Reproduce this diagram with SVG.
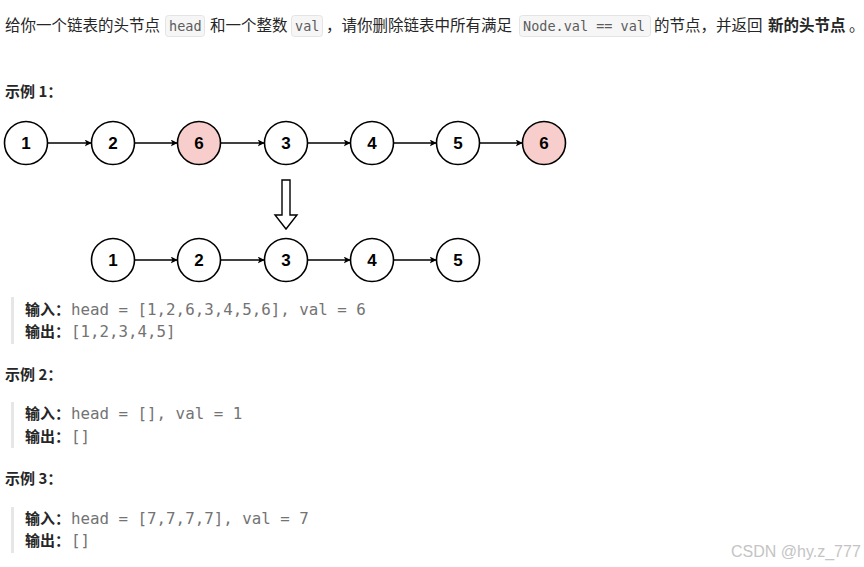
<svg xmlns="http://www.w3.org/2000/svg" width="864" height="567" viewBox="0 0 864 567">
<defs>
<style>
.t{font-family:"Noto Sans CJK SC","Noto Sans",sans-serif;font-size:15.5px;fill:#262626}
.b{font-weight:bold}
.code{font-family:"DejaVu Sans Mono","Liberation Mono",monospace;font-size:13.5px;fill:#5c5c5c}
.cb{fill:#f6f6f6;stroke:#e4e4e4;stroke-width:1}
.mono{font-family:"DejaVu Sans Mono","Liberation Mono",monospace;font-size:15.8px;fill:#737373}
.lbl{font-family:"Noto Sans CJK SC",sans-serif;font-size:15px;font-weight:bold;fill:#262626}
.node circle{fill:#fff;stroke:#000;stroke-width:1.6}
.node.hl circle{fill:#f8cecc}
.node text{font-family:"Liberation Sans",Arial,sans-serif;font-size:17px;font-weight:bold;fill:#000;text-anchor:middle}
.edge{stroke:#000;stroke-width:1.4;fill:none;marker-end:url(#ah)}
.bar{fill:#e6e6e6}
</style>
<marker id="ah" viewBox="0 0 10 10" refX="9" refY="5" markerWidth="7" markerHeight="7" markerUnits="userSpaceOnUse" orient="auto">
<path d="M0,0 L10,5 L0,10 L2.5,5 Z" fill="#000"/>
</marker>
</defs>
<rect width="864" height="567" fill="#fff"/>

<g id="intro">
<text class="t" x="5" y="31">给你一个链表的头节点</text>
<rect class="cb" x="165.5" y="15.5" width="39" height="21" rx="3"/>
<text class="code" x="169" y="31">head</text>
<text class="t" x="210" y="31">和一个整数</text>
<rect class="cb" x="291.5" y="15.5" width="31" height="21" rx="3"/>
<text class="code" x="295" y="31">val</text>
<text class="t" x="326" y="31">，请你删除链表中所有满足</text>
<rect class="cb" x="519.5" y="15.5" width="131" height="21" rx="3"/>
<text class="code" x="523" y="31">Node.val == val</text>
<text class="t" x="654" y="31">的节点，并返回</text>
<text class="t b" x="768" y="31">新的头节点</text>
<text class="t" x="849" y="31">。</text>
</g>

<text class="lbl" x="5" y="97">示例 1：</text>

<g id="edges">
<line class="edge" x1="48" y1="143" x2="91" y2="143"/>
<line class="edge" x1="135" y1="143" x2="177" y2="143"/>
<line class="edge" x1="221" y1="143" x2="264" y2="143"/>
<line class="edge" x1="308" y1="143" x2="350" y2="143"/>
<line class="edge" x1="394" y1="143" x2="436" y2="143"/>
<line class="edge" x1="480" y1="143" x2="522" y2="143"/>
<line class="edge" x1="135" y1="260" x2="177" y2="260"/>
<line class="edge" x1="221" y1="260" x2="264" y2="260"/>
<line class="edge" x1="308" y1="260" x2="350" y2="260"/>
<line class="edge" x1="394" y1="260" x2="436" y2="260"/>
</g>

<g id="a1" class="node"><circle cx="26" cy="143" r="21.5"/><text x="26" y="149">1</text></g>
<g id="a2" class="node"><circle cx="113" cy="143" r="21.5"/><text x="113" y="149">2</text></g>
<g id="a3" class="node hl"><circle cx="199" cy="143" r="21.5"/><text x="199" y="149">6</text></g>
<g id="a4" class="node"><circle cx="286" cy="143" r="21.5"/><text x="286" y="149">3</text></g>
<g id="a5" class="node"><circle cx="372" cy="143" r="21.5"/><text x="372" y="149">4</text></g>
<g id="a6" class="node"><circle cx="458" cy="143" r="21.5"/><text x="458" y="149">5</text></g>
<g id="a7" class="node hl"><circle cx="544" cy="143" r="21.5"/><text x="544" y="149">6</text></g>

<g id="down-arrow">
<polygon points="282,180 290,180 290,215 297,215 286,229 275,215 282,215" fill="#fff" stroke="#000" stroke-width="1.4" stroke-linejoin="miter"/>
</g>

<g id="b1" class="node"><circle cx="113" cy="260" r="21.5"/><text x="113" y="266">1</text></g>
<g id="b2" class="node"><circle cx="199" cy="260" r="21.5"/><text x="199" y="266">2</text></g>
<g id="b3" class="node"><circle cx="286" cy="260" r="21.5"/><text x="286" y="266">3</text></g>
<g id="b4" class="node"><circle cx="372" cy="260" r="21.5"/><text x="372" y="266">4</text></g>
<g id="b5" class="node"><circle cx="458" cy="260" r="21.5"/><text x="458" y="266">5</text></g>

<rect class="bar" x="11" y="297" width="3" height="47"/>
<text class="lbl" x="25" y="315">输入：</text>
<text class="mono" x="71" y="315">head = [1,2,6,3,4,5,6], val = 6</text>
<text class="lbl" x="25" y="337">输出：</text>
<text class="mono" x="71" y="337">[1,2,3,4,5]</text>

<text class="lbl" x="5" y="380">示例 2：</text>
<rect class="bar" x="11" y="402" width="3" height="46"/>
<text class="lbl" x="25" y="419">输入：</text>
<text class="mono" x="71" y="419">head = [], val = 1</text>
<text class="lbl" x="25" y="442">输出：</text>
<text class="mono" x="71" y="442">[]</text>

<text class="lbl" x="5" y="484">示例 3：</text>
<rect class="bar" x="11" y="507" width="3" height="46"/>
<text class="lbl" x="25" y="524">输入：</text>
<text class="mono" x="71" y="524">head = [7,7,7,7], val = 7</text>
<text class="lbl" x="25" y="546">输出：</text>
<text class="mono" x="71" y="546">[]</text>

<text x="731" y="557" font-family="Liberation Sans,Arial,sans-serif" font-size="16" fill="#c4c4c4">CSDN @hy.z_777</text>
</svg>
